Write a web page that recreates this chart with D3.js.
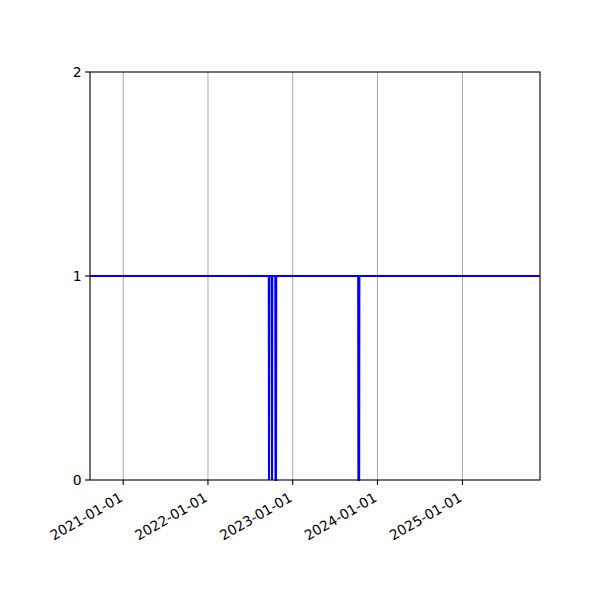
<!DOCTYPE html>
<html>
<head>
<meta charset="utf-8">
<script src="https://cdn.jsdelivr.net/npm/d3@7"></script>
<style>
  body { margin: 0; background: #fff; }
  text { font-family: "DejaVu Sans", sans-serif; font-size: 13.9px; fill: #000; }
</style>
</head>
<body>
<svg id="chart" width="600" height="600"></svg>
<script>
/* ---- data ---- */
const dates  = ["2020-08-11","2022-09-20","2022-09-21","2022-09-22",
                "2022-10-03","2022-10-04","2022-10-05",
                "2022-10-18","2022-10-19","2022-10-21","2022-10-22",
                "2023-10-10","2023-10-11","2023-10-14","2023-10-15","2025-12-01"];
const values = [1,1,0,1, 1,0,1, 1,0,0,1, 1,0,0,1,1];
const xTicks = ["2021-01-01","2022-01-01","2023-01-01","2024-01-01","2025-01-01"];
const yTicks = [0, 1, 2];

/* ---- geometry ---- */
const L = 90, R = 540, T = 72, B = 480;
const parse = d3.utcParse("%Y-%m-%d");
const series = dates.map((d, i) => ({ t: parse(d), v: values[i] }));

const x = d3.scaleUtc()
  .domain(d3.extent(series, d => d.t))
  .range([L, R]);
const y = d3.scaleLinear().domain([0, 2]).range([B, T]);

const svg = d3.select("#chart");

// vertical grid
svg.append("g")
  .selectAll("line")
  .data(xTicks.map(parse))
  .join("line")
  .attr("x1", d => x(d)).attr("x2", d => x(d))
  .attr("y1", T).attr("y2", B)
  .attr("stroke", "#b0b0b0").attr("stroke-width", 1.1);

// series line
svg.append("path")
  .datum(series)
  .attr("fill", "none")
  .attr("stroke", "#0000ff")
  .attr("stroke-width", 2.1)
  .attr("d", d3.line().x(d => x(d.t)).y(d => y(d.v)));

// frame
svg.append("rect")
  .attr("x", L).attr("y", T).attr("width", R - L).attr("height", B - T)
  .attr("fill", "none").attr("stroke", "#000").attr("stroke-width", 1.1);

// x axis ticks + rotated labels
const xt = svg.append("g");
xTicks.forEach(s => {
  const px = x(parse(s));
  xt.append("line")
    .attr("x1", px).attr("x2", px).attr("y1", B).attr("y2", B + 4.9)
    .attr("stroke", "#000").attr("stroke-width", 1.1);
  xt.append("text")
    .attr("transform", `translate(${px - 5},${B + 11}) rotate(-30)`)
    .attr("text-anchor", "end")
    .attr("dy", "0.78em")
    .text(s);
});

// y axis ticks + labels
const yt = svg.append("g");
yTicks.forEach(v => {
  const py = y(v);
  yt.append("line")
    .attr("x1", L - 4.9).attr("x2", L).attr("y1", py).attr("y2", py)
    .attr("stroke", "#000").attr("stroke-width", 1.1);
  yt.append("text")
    .attr("x", L - 8.5).attr("y", py)
    .attr("text-anchor", "end")
    .attr("dy", "0.35em")
    .text(v);
});
</script>
</body>
</html>
